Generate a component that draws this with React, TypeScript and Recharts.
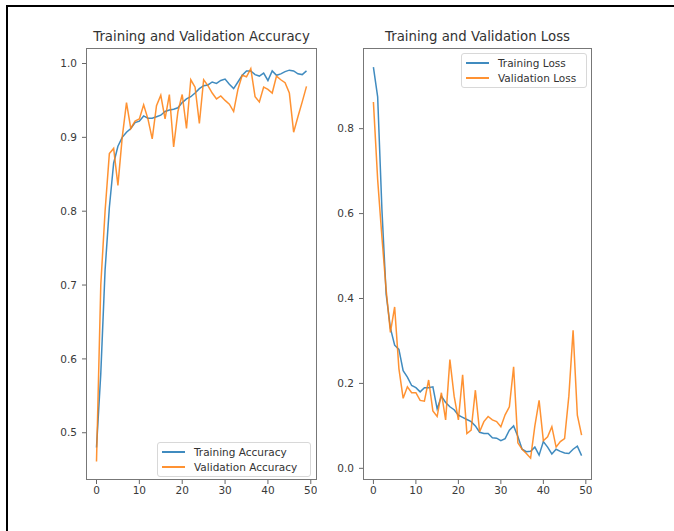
import React from 'react';
import { LineChart, Line, XAxis, YAxis, Legend } from 'recharts';

const epochs = Array.from({ length: 50 }, (_, i) => i);

const trainAcc = [
  0.48, 0.58, 0.72, 0.805, 0.865, 0.888, 0.9, 0.907, 0.912, 0.92,
  0.922, 0.929, 0.926, 0.926, 0.928, 0.93, 0.935, 0.937, 0.938, 0.94,
  0.947, 0.952, 0.955, 0.96, 0.966, 0.97, 0.971, 0.975, 0.973, 0.977,
  0.979, 0.972, 0.966, 0.975, 0.984, 0.99, 0.99, 0.985, 0.983, 0.987,
  0.977, 0.99, 0.984, 0.986, 0.989, 0.991, 0.99, 0.986, 0.985, 0.99,
];
const valAcc = [
  0.461, 0.7, 0.8, 0.878, 0.885, 0.835, 0.9, 0.947, 0.912, 0.922,
  0.925, 0.944, 0.925, 0.898, 0.943, 0.957, 0.925, 0.958, 0.887, 0.935,
  0.958, 0.912, 0.978, 0.968, 0.919, 0.978, 0.97, 0.96, 0.952, 0.956,
  0.95, 0.945, 0.935, 0.965, 0.984, 0.982, 0.993, 0.955, 0.948, 0.968,
  0.965, 0.96, 0.983, 0.978, 0.974, 0.96, 0.907, 0.928, 0.948, 0.969,
];
const trainLoss = [
  0.945, 0.875, 0.61, 0.41, 0.33, 0.29, 0.28, 0.23, 0.215, 0.195,
  0.19, 0.18, 0.19, 0.19, 0.192, 0.14, 0.17, 0.155, 0.145, 0.138,
  0.125, 0.12, 0.115, 0.11, 0.1, 0.085, 0.082, 0.082, 0.072, 0.071,
  0.065, 0.07, 0.09, 0.1, 0.075, 0.045, 0.039, 0.04, 0.05, 0.031,
  0.063, 0.05, 0.034, 0.045, 0.04, 0.036, 0.035, 0.045, 0.052, 0.03,
];
const valLoss = [
  0.863, 0.68, 0.545, 0.42, 0.32, 0.38, 0.235, 0.165, 0.192, 0.178,
  0.178, 0.16, 0.158, 0.208, 0.135, 0.122, 0.178, 0.114, 0.256, 0.17,
  0.114, 0.22, 0.082, 0.09, 0.184, 0.086, 0.11, 0.122, 0.114, 0.11,
  0.098, 0.126, 0.145, 0.239, 0.06, 0.045, 0.035, 0.024, 0.1, 0.16,
  0.065, 0.074, 0.098, 0.05, 0.063, 0.07, 0.17, 0.325, 0.125, 0.078,
];

const xTicks = [0, 10, 20, 30, 40, 50];
const accTicks = [0.5, 0.6, 0.7, 0.8, 0.9, 1.0];
const lossTicks = [0, 0.2, 0.4, 0.6, 0.8];

const BLUE = '#1f77b4';
const ORANGE = '#ff7f0e';
const FONT = '"DejaVu Sans", sans-serif';

const accData = epochs.map((e, i) => ({ epoch: e, train: trainAcc[i], val: valAcc[i] }));
const lossData = epochs.map((e, i) => ({ epoch: e, train: trainLoss[i], val: valLoss[i] }));

const YW = 40;
const XH = 30;

function LegendBox({ labels, width }: { labels: string[]; width: number }) {
  const colors = [BLUE, ORANGE];
  return (
    <div
      style={{
        width,
        boxSizing: 'border-box',
        border: '1px solid #d8d8d8',
        borderRadius: 3,
        background: 'rgba(255,255,255,0.85)',
        padding: '2px 4px',
        fontFamily: FONT,
        fontSize: 10.5,
        color: '#333',
      }}
    >
      {labels.map((l, i) => (
        <div key={l} style={{ display: 'flex', alignItems: 'center', height: 14.5 }}>
          <span style={{ display: 'inline-block', width: 23, height: 2, background: colors[i], opacity: 0.85, marginRight: 9 }} />
          <span>{l}</span>
        </div>
      ))}
    </div>
  );
}

interface PanelProps {
  title: string;
  data: { epoch: number; train: number; val: number }[];
  left: number;
  top: number;
  plotW: number;
  plotH: number;
  yDomain: [number, number];
  yTicks: number[];
  labels: string[];
  legendPos: { left: number; top: number; width: number };
}

function Panel({ title, data, left, top, plotW, plotH, yDomain, yTicks, labels, legendPos }: PanelProps) {
  const tick = { fontSize: 10.5, fill: '#3a3a3a', fontFamily: FONT };
  return (
    <>
      <div
        style={{
          position: 'absolute',
          left: left - 40,
          width: plotW + 80,
          top: top - 19,
          textAlign: 'center',
          fontFamily: FONT,
          fontSize: 13.3,
          color: '#333',
        }}
      >
        {title}
      </div>
      <div style={{ position: 'absolute', left: left - YW, top }}>
        <LineChart width={YW + plotW} height={plotH + XH} data={data} margin={{ top: 0, right: 0, bottom: 0, left: 0 }}>
          <XAxis
            dataKey="epoch"
            type="number"
            domain={[-2.45, 51.45]}
            ticks={xTicks}
            height={XH}
            axisLine={false}
            tickSize={4}
            tickMargin={3}
            tickLine={{ stroke: '#666' }}
            tick={tick}
            allowDataOverflow
          />
          <YAxis
            type="number"
            domain={yDomain}
            ticks={yTicks}
            width={YW}
            axisLine={false}
            tickSize={4}
            tickMargin={5}
            tickLine={{ stroke: '#666' }}
            tick={tick}
            tickFormatter={(v: number) => v.toFixed(1)}
            allowDataOverflow
          />
          <Line type="linear" dataKey="train" name={labels[0]} stroke={BLUE} strokeOpacity={0.85} strokeWidth={1.5} dot={false} isAnimationActive={false} />
          <Line type="linear" dataKey="val" name={labels[1]} stroke={ORANGE} strokeOpacity={0.85} strokeWidth={1.5} dot={false} isAnimationActive={false} />
          <Legend
            layout="vertical"
            align="center"
            verticalAlign="middle"
            wrapperStyle={{ left: legendPos.left, top: legendPos.top, width: legendPos.width }}
            content={() => <LegendBox labels={labels} width={legendPos.width} />}
          />
        </LineChart>
      </div>
      <div
        style={{
          position: 'absolute',
          left,
          top,
          width: plotW,
          height: plotH,
          boxSizing: 'border-box',
          border: '1px solid #777',
          pointerEvents: 'none',
        }}
      />
    </>
  );
}

export default function App() {
  return (
    <div style={{ position: 'absolute', left: 0, top: 0, width: 674, height: 531, background: '#fff', overflow: 'hidden' }}>
      <div
        style={{
          position: 'absolute',
          left: 6,
          top: 5,
          width: 700,
          height: 600,
          borderTop: '2px solid #000',
          borderLeft: '2px solid #000',
        }}
      />
      <Panel
        title="Training and Validation Accuracy"
        data={accData}
        left={86}
        top={48}
        plotW={231}
        plotH={432}
        yDomain={[0.436, 1.021]}
        yTicks={accTicks}
        labels={['Training Accuracy', 'Validation Accuracy']}
        legendPos={{ left: 111, top: 394, width: 154 }}
      />
      <Panel
        title="Training and Validation Loss"
        data={lossData}
        left={363}
        top={48}
        plotW={229}
        plotH={432}
        yDomain={[-0.0275, 0.99]}
        yTicks={lossTicks}
        labels={['Training Loss', 'Validation Loss']}
        legendPos={{ left: 138, top: 5, width: 126 }}
      />
    </div>
  );
}
